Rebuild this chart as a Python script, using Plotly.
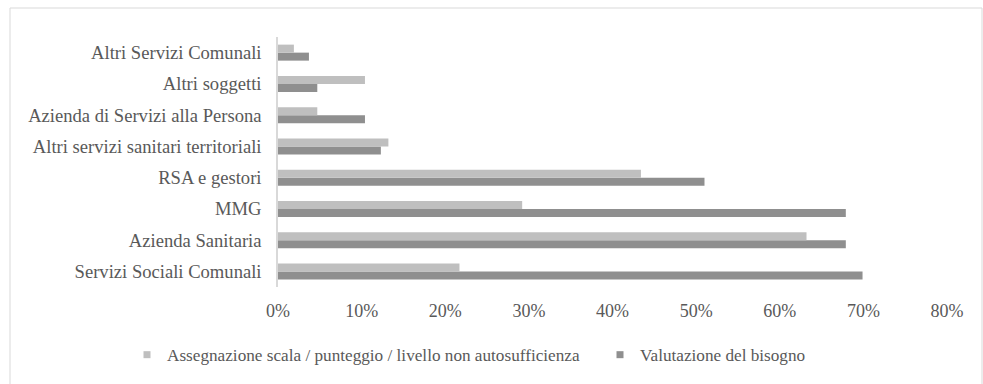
import plotly.graph_objects as go

categories = [
    "Servizi Sociali Comunali",
    "Azienda Sanitaria",
    "MMG",
    "RSA e gestori",
    "Altri servizi sanitari territoriali",
    "Azienda di Servizi alla Persona",
    "Altri soggetti",
    "Altri Servizi Comunali",
]
assegnazione = [0.217, 0.632, 0.292, 0.434, 0.132, 0.047, 0.104, 0.019]
valutazione = [0.699, 0.679, 0.679, 0.510, 0.123, 0.104, 0.047, 0.037]

series_names = ["Assegnazione scala / punteggio / livello non autosufficienza", "Valutazione del bisogno"]
colors = ["#BFBFBF", "#8F8F8F"]

W, H = 983, 384
L, R, T, B = 278, 36, 37, 97
font_fam = "Liberation Serif"
txt_col = "#595959"

fig = go.Figure()
fig.add_trace(go.Bar(y=categories, x=valutazione, orientation="h", name=series_names[1],
                     marker=dict(color=colors[1], line=dict(width=0)), showlegend=False))
fig.add_trace(go.Bar(y=categories, x=assegnazione, orientation="h", name=series_names[0],
                     marker=dict(color=colors[0], line=dict(width=0)), showlegend=False))
for nm, c in zip(series_names, colors):
    fig.add_trace(go.Scatter(x=[None], y=[None], mode="markers", name=nm,
                             marker=dict(symbol="square", size=7, color=c)))

pw = W - L - R
ph = H - T - B
fig.add_shape(type="rect", xref="paper", yref="paper",
              x0=(10 - L) / pw, x1=(982 - L) / pw,
              y0=(T + ph - 395) / ph, y1=(T + ph - 8) / ph,
              line=dict(color="#D9D9D9", width=1), layer="below")

fig.update_layout(
    width=W, height=H,
    margin=dict(l=L, r=R, t=T, b=B, autoexpand=False),
    paper_bgcolor="white", plot_bgcolor="white",
    barmode="group", bargap=0.488, bargroupgap=0,
    font=dict(family=font_fam, color=txt_col, size=18),
    showlegend=True,
    legend=dict(orientation="h", x=(127 - L) / pw, xanchor="left",
                y=(T + ph - 355) / ph, yanchor="middle",
                font=dict(family=font_fam, size=17.2, color=txt_col), itemwidth=30,
                entrywidth=428, entrywidthmode="pixels",
                bgcolor="rgba(0,0,0,0)", traceorder="normal"),
    xaxis=dict(range=[0, 0.8], dtick=0.1, tickformat=".0%", showgrid=False,
               zeroline=False, showline=False, ticks="outside", ticklen=7,
               tickcolor="rgba(0,0,0,0)", tickfont=dict(family=font_fam, size=18, color=txt_col),
               fixedrange=True),
    yaxis=dict(showgrid=False, zeroline=False, showline=True, linecolor="#D9D9D9",
               linewidth=1.5, ticks="", ticklabelstandoff=11,
               tickfont=dict(family=font_fam, size=18.6, color=txt_col), fixedrange=True),
)

fig.write_html("out.html")
